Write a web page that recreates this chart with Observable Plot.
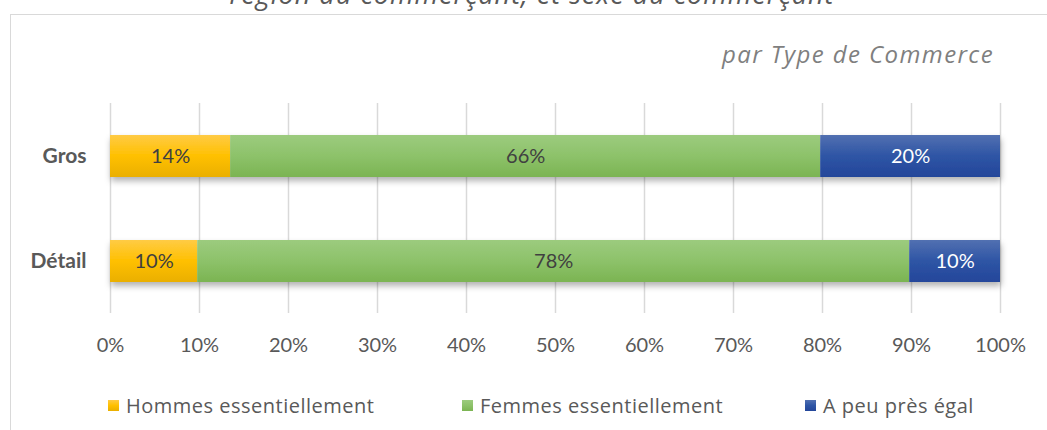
<!DOCTYPE html>
<html><head><meta charset="utf-8">
<script src="https://cdn.jsdelivr.net/npm/d3@7"></script>
<script src="https://cdn.jsdelivr.net/npm/@observablehq/plot@0.6"></script>
<style>
body{margin:0;background:#fff;font-family:Lato,sans-serif}
#wrap{position:relative;width:1047px;height:430px;overflow:hidden;background:#fff}
#frame{position:absolute;left:10px;top:14px;width:1100px;height:500px;border:1.5px solid #d9d9d9;box-sizing:border-box}
#title{position:absolute;left:0;width:1064px;text-align:center;top:-25px;font-family:"Open Sans",sans-serif;font-style:italic;font-size:27px;letter-spacing:1px;color:#595959;white-space:nowrap}
#subtitle{position:absolute;right:53px;top:37px;font-family:"Open Sans",sans-serif;font-style:italic;font-size:24px;letter-spacing:1.4px;color:#7f7f7f;white-space:nowrap}
#chart{position:absolute;left:0;top:0}
.leg{position:absolute;top:392px;font-family:"Open Sans",sans-serif;font-size:20px;letter-spacing:0.5px;color:#595959;display:flex;align-items:center;white-space:nowrap}
.sw{width:11px;height:11px;margin-right:7px}
</style>
</head><body>
<div id="wrap">
  <div id="frame"></div>
  <div id="title">région du commerçant, et sexe du commerçant</div>
  <div id="subtitle">par Type de Commerce</div>
  <div id="chart"></div>
</div>
<script>
// ---- data ----
const categories = ["Gros", "Détail"];
const series = ["Hommes essentiellement", "Femmes essentiellement", "A peu près égal"];
const grosValues = [13.5, 66.3, 20.2];
const detailValues = [9.8, 80.0, 10.2];
const grosLabels = ["14%", "66%", "20%"];
const detailLabels = ["10%", "78%", "10%"];
const xTicks = [0, 10, 20, 30, 40, 50, 60, 70, 80, 90, 100];

// ---- styling ----
const gradStops = [
  ["#FFCB45", "#FFC000", "#EAAF00"],
  ["#9CCB7E", "#8DC26A", "#7BB452"],
  ["#5270B1", "#2E55A5", "#24469A"]
];
const labelColors = ["#404040", "#404040", "#ffffff"];
const legendX = [108, 462, 805];

const rows = [];
[grosValues, detailValues].forEach((vals, ci) => {
  const labs = ci === 0 ? grosLabels : detailLabels;
  vals.forEach((v, si) => rows.push({
    cat: categories[ci], series: series[si], value: v, label: labs[si],
    fill: `url(#grad${si})`, textFill: labelColors[si]
  }));
});

const chart = Plot.plot({
  width: 1047,
  height: 370,
  marginLeft: 110,
  marginRight: 47,
  marginTop: 103,
  marginBottom: 57,
  style: {fontFamily: "Lato, sans-serif", fontSize: "20px", color: "#595959", background: "transparent"},
  x: {domain: [0, 100], label: null},
  y: {domain: categories, label: null, paddingInner: 0.6, paddingOuter: 0.3},
  color: {type: "identity"},
  marks: [
    Plot.ruleX(xTicks, {stroke: "#d9d9d9", strokeWidth: 1.5}),
    Plot.barX(rows, {y: "cat", x: "value", fill: "fill"}),
    Plot.textX(rows, Plot.stackX({y: "cat", x: "value", text: "label", fill: "textFill", fontSize: 20})),
    Plot.axisX({ticks: xTicks, tickFormat: d => d + "%", tickSize: 0, tickPadding: 24, fill: "#595959", fontSize: 20, label: null}),
    Plot.axisY({tickSize: 0, tickPadding: 24, fill: "#595959", fontSize: 21, fontWeight: "bold", label: null})
  ]
});

// gradient + shadow defs
const ns = "http://www.w3.org/2000/svg";
const defs = document.createElementNS(ns, "defs");
gradStops.forEach((stops, i) => {
  const g = document.createElementNS(ns, "linearGradient");
  g.setAttribute("id", "grad" + i);
  g.setAttribute("x1", "0"); g.setAttribute("y1", "0");
  g.setAttribute("x2", "0"); g.setAttribute("y2", "1");
  stops.forEach((c, k) => {
    const s = document.createElementNS(ns, "stop");
    s.setAttribute("offset", (k * 50) + "%");
    s.setAttribute("stop-color", c);
    g.appendChild(s);
  });
  defs.appendChild(g);
});
const f = document.createElementNS(ns, "filter");
f.setAttribute("id", "shadow");
f.setAttribute("x", "-5%"); f.setAttribute("y", "-20%");
f.setAttribute("width", "110%"); f.setAttribute("height", "160%");
const ds = document.createElementNS(ns, "feDropShadow");
ds.setAttribute("dx", "1"); ds.setAttribute("dy", "4");
ds.setAttribute("stdDeviation", "3"); ds.setAttribute("flood-color", "#000");
ds.setAttribute("flood-opacity", "0.3");
f.appendChild(ds);
defs.appendChild(f);
chart.insertBefore(defs, chart.firstChild);
chart.querySelectorAll('g[aria-label="bar"]').forEach(g => g.setAttribute("filter", "url(#shadow)"));

document.getElementById("chart").appendChild(chart);

// legend
const wrap = document.getElementById("wrap");
series.forEach((s, i) => {
  const d = document.createElement("div");
  d.className = "leg";
  d.style.left = legendX[i] + "px";
  const sw = document.createElement("span");
  sw.className = "sw";
  sw.style.background = `linear-gradient(${gradStops[i][0]}, ${gradStops[i][1]}, ${gradStops[i][2]})`;
  d.appendChild(sw);
  const t = document.createElement("span");
  t.textContent = s;
  d.appendChild(t);
  wrap.appendChild(d);
});
</script>
</body></html>
